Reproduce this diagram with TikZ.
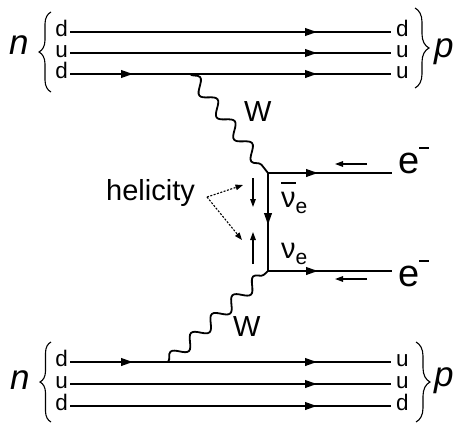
\documentclass[tikz,border=0pt]{standalone}
\usepackage{fontspec}
\setmainfont{Liberation Sans}
\usetikzlibrary{arrows.meta,decorations.pathmorphing,decorations.pathreplacing,decorations.markings}
\tikzset{
  qlbl/.style={inner sep=0pt, font=\fontsize{22.5}{22.5}\selectfont},
  hadron/.style={inner sep=0pt, font=\fontsize{35}{35}\selectfont\itshape},
  midtxt/.style={inner sep=0pt, font=\fontsize{29}{29}\selectfont},
  etxt/.style={inner sep=0pt, font=\fontsize{38}{38}\selectfont},
  fline/.style={line width=2.3pt},
  marr/.style={postaction={decorate,decoration={markings,mark=at position #1 with {\arrow{Triangle[length=12pt,width=7.5pt]}}}}},
  wline/.style={line width=1.8pt, decorate, decoration={snake, segment length=28pt, amplitude=6pt}},
  brc/.style={line width=1.1pt, decorate, decoration={brace, amplitude=#1}},
  harr/.style={line width=1.3pt, -{Triangle[length=8pt,width=5.5pt]}},
  dotarr/.style={line width=1.1pt, dash pattern=on 2pt off 1.5pt, -{Triangle[length=7.5pt,width=5.5pt]}},
}
\newcommand{\nubar}{\makebox[0pt][l]{\raisebox{0.78em}{\rule{0.52em}{0.08em}}}ν}
\begin{document}
\begin{tikzpicture}[x=1pt,y=-1pt]
\useasboundingbox (0,0) rectangle (457,423);
% ---- top hadron (n -> p)
\coordinate (ta1) at (70,32);  \coordinate (tb1) at (391,32);
\coordinate (ta2) at (70,53);  \coordinate (tb2) at (391,53);
\coordinate (ta3) at (70,74);  \coordinate (tb3) at (391,74);
\node[qlbl, anchor=base east] (tl1) at (68,36) {d};
\node[qlbl, anchor=base east] (tl2) at (68,57) {u};
\node[qlbl, anchor=base east] (tl3) at (68,78) {d};
\node[qlbl, anchor=base west] (tr1) at (396,36) {d};
\node[qlbl, anchor=base west] (tr2) at (396,57) {u};
\node[qlbl, anchor=base west] (tr3) at (396,78) {u};
\draw[fline, marr=247pt] (ta1) -- (tb1);
\draw[fline, marr=247pt] (ta2) -- (tb2);
\draw[fline, marr=63pt, marr=247pt] (ta3) -- (tb3);
\draw[brc=12pt] (51,92) -- (51,12);
\draw[brc=14pt] (415,8) -- (415,88);
\node[hadron, anchor=base west] (tn) at (9,54) {n};
\node[hadron, anchor=base west] (tp) at (434,57) {p};
% ---- bottom hadron (n -> p)
\coordinate (ba1) at (70,362); \coordinate (bb1) at (391,362);
\coordinate (ba2) at (70,384); \coordinate (bb2) at (391,384);
\coordinate (ba3) at (70,406); \coordinate (bb3) at (391,406);
\node[qlbl, anchor=base east] (bl1) at (68,366) {d};
\node[qlbl, anchor=base east] (bl2) at (68,388) {u};
\node[qlbl, anchor=base east] (bl3) at (68,410) {d};
\node[qlbl, anchor=base west] (br1) at (396,366) {u};
\node[qlbl, anchor=base west] (br2) at (396,388) {u};
\node[qlbl, anchor=base west] (br3) at (396,410) {d};
\draw[fline, marr=63pt, marr=247pt] (ba1) -- (bb1);
\draw[fline, marr=247pt] (ba2) -- (bb2);
\draw[fline, marr=247pt] (ba3) -- (bb3);
\draw[brc=11pt] (51,422) -- (51,342);
\draw[brc=14pt] (416,342) -- (416,422);
\node[hadron, anchor=base west] (bn) at (10,389) {n};
\node[hadron, anchor=base west] (bp) at (434,386) {p};
% ---- W bosons
\coordinate (w1) at (190,74);
\coordinate (w2) at (168,362);
\coordinate (v1) at (268,173);
\coordinate (v2) at (268,271);
\draw[wline] (w1) -- (v1);
\draw[wline] (w2) -- (v2);
\node[midtxt, anchor=base west] (W1) at (244,121) {W};
\node[midtxt, anchor=base west] (W2) at (233,336) {W};
% ---- lepton lines
\coordinate (e1) at (392,173);
\coordinate (e2) at (392,271);
\draw[fline, marr=52pt] (v1) -- (v2);
\draw[fline, marr=50pt] (v1) -- (e1);
\draw[fline, marr=50pt] (v2) -- (e2);
\node[etxt, anchor=base west] (el1) at (398,173) {e\rule[0.62em]{10pt}{2.6pt}};
\node[etxt, anchor=base west] (el2) at (398,286) {e\rule[0.62em]{10pt}{2.6pt}};
\node[midtxt, anchor=base west] (nb) at (281,207) {\nubar\raisebox{-6pt}{\fontsize{21}{21}\selectfont e}};
\node[midtxt, anchor=base west] (nu) at (281,258) {ν\raisebox{-6pt}{\fontsize{21}{21}\selectfont e}};
% ---- spin arrows
\coordinate (s1a) at (367,164); \coordinate (s1b) at (335,164);
\coordinate (s2a) at (367,279); \coordinate (s2b) at (335,279);
\draw[harr] (s1a) -- (s1b);
\draw[harr] (s2a) -- (s2b);
\coordinate (h1a) at (253,178); \coordinate (h1b) at (253,207);
\coordinate (h2a) at (253,264); \coordinate (h2b) at (253,232);
\draw[harr] (h1a) -- (h1b);
\draw[harr] (h2a) -- (h2b);
% ---- helicity label
\node[midtxt, anchor=base west] (hel) at (106,200) {helicity};
\coordinate (hs) at (207,197);
\coordinate (he1) at (243,185);
\coordinate (he2) at (242,240);
\draw[dotarr] (hs) -- (he1);
\draw[dotarr] (hs) -- (he2);
\end{tikzpicture}
\end{document}
